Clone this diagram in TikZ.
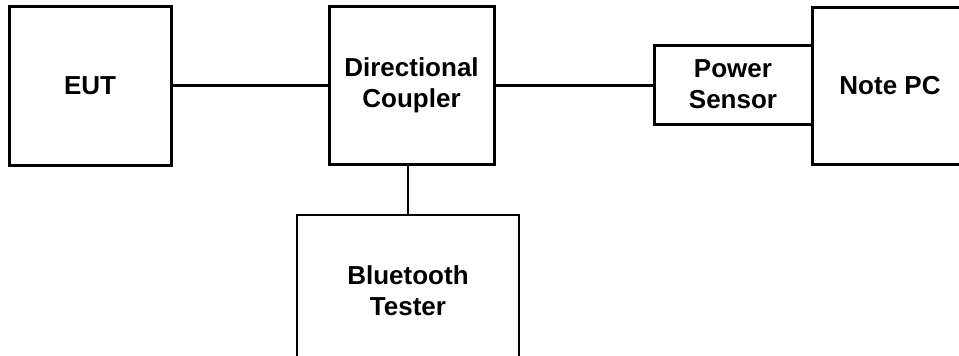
\documentclass[tikz,border=0pt]{standalone}
\usepackage{fontspec}
\setmainfont{Liberation Sans}
\begin{document}
\begin{tikzpicture}[x=1pt,y=-1pt,
  blk/.style={draw=black, line width=3pt, fill=white, align=center, inner sep=0pt,
    font=\fontsize{26}{31}\selectfont\bfseries},
  thinblk/.style={blk, line width=2pt},
  wire/.style={draw=black, line width=3pt},
  thinwire/.style={draw=black, line width=2pt}]
\useasboundingbox (0,0) rectangle (959,356);
\clip (0,0) rectangle (959,356);
\node[blk, minimum width=162pt, minimum height=159pt] (eut) at (90,85.5) {EUT};
\node[blk, minimum width=165pt, minimum height=158pt] (dc) at (411.5,85) {Directional\\Coupler};
\node[blk, minimum width=158pt, minimum height=79pt] (ps) at (733,84.5) {Power\\Sensor};
\node[blk, minimum width=156pt, minimum height=157pt] (pc) at (890,85.5) {Note PC};
\node[thinblk, minimum width=222pt, minimum height=152pt] (bt) at (408,291) {Bluetooth\\Tester};
\draw[wire] (eut.east) -- (eut.east -| dc.west);
\draw[wire] (dc.east) -- (dc.east -| ps.west);
\draw[thinwire] (dc.south -| bt.north) -- (bt.north);
\end{tikzpicture}
\end{document}
